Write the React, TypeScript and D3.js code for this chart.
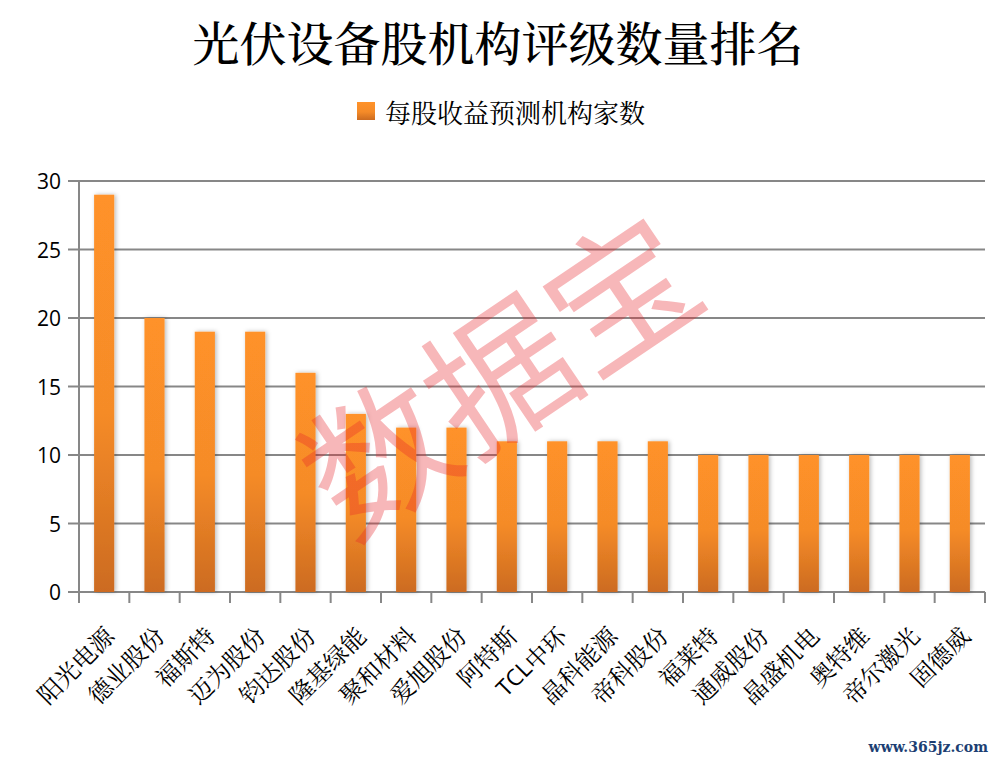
import * as d3 from "d3";

const categories = [
  "阳光电源", "德业股份", "福斯特", "迈为股份", "钧达股份", "隆基绿能",
  "聚和材料", "爱旭股份", "阿特斯", "TCL中环", "晶科能源", "帝科股份",
  "福莱特", "通威股份", "晶盛机电", "奥特维", "帝尔激光", "固德威",
];
const counts = [29, 20, 19, 19, 16, 13, 12, 12, 11, 11, 11, 11, 10, 10, 10, 10, 10, 10];
const yTicks = [0, 5, 10, 15, 20, 25, 30];
const seriesName = "每股收益预测机构家数";
const title = "光伏设备股机构评级数量排名";

const W = 996;
const H = 762;
const margin = { top: 181, right: 11, bottom: 170, left: 79 };
const CJK = "'Noto Serif CJK SC', 'Noto Sans CJK SC', sans-serif";
const LATIN = "'Open Sans', 'Noto Sans', sans-serif";

// latin runs (e.g. "TCL") are drawn in a sans face like the original
function labelParts(s: string) {
  return s.split(/([A-Za-z]+)/).filter((p) => p !== "");
}

export default function App() {
  const innerW = W - margin.left - margin.right;
  const innerH = H - margin.top - margin.bottom;

  const x = d3.scaleBand<string>().domain(categories).range([0, innerW]).paddingInner(0.6).paddingOuter(0.3);
  const band = d3.scaleBand<string>().domain(categories).range([0, innerW]);
  const y = d3.scaleLinear().domain([0, 30]).range([innerH, 0]);

  const gridColor = "#878787";

  return (
    <svg width={W} height={H} style={{ position: "absolute", left: 0, top: 0, background: "#fff" }}>
      <defs>
        <linearGradient id="barGrad" x1="0" y1="0" x2="0" y2="1">
          <stop offset="0%" stopColor="#ff9229" />
          <stop offset="55%" stopColor="#f58b28" />
          <stop offset="100%" stopColor="#cc6b20" />
        </linearGradient>
        <filter id="barShadow" x="-50%" y="-10%" width="200%" height="120%">
          <feDropShadow dx="1.5" dy="0" stdDeviation="2" floodColor="#000" floodOpacity="0.28" />
        </filter>
      </defs>

      {/* Title */}
      <text x={W / 2} y={40} textAnchor="middle" dominantBaseline="central"
        fontFamily={CJK} fontSize={47} fontWeight={500} fill="#000">{title}</text>

      {/* Legend */}
      <rect x={357} y={102} width={18} height={18} fill="url(#barGrad)" />
      <text x={385} y={111} dominantBaseline="central" fontFamily={CJK} fontSize={26} fill="#000">{seriesName}</text>

      <g transform={`translate(${margin.left},${margin.top})`}>
        {/* grid lines */}
        {yTicks.map((t) => (
          <g key={t}>
            <line x1={-11} x2={innerW} y1={y(t)} y2={y(t)} stroke={gridColor} strokeWidth={2} />
            <text x={-18} y={y(t)} textAnchor="end" dominantBaseline="central"
              fontFamily={LATIN} fontSize={21} fill="#000">{t}</text>
          </g>
        ))}
        {/* y axis */}
        <line x1={0} x2={0} y1={0} y2={innerH + 11} stroke={gridColor} strokeWidth={2} />
        {/* x ticks at band boundaries */}
        {categories.map((c) => (
          <line key={c} x1={band(c)! + band.bandwidth()} x2={band(c)! + band.bandwidth()}
            y1={innerH} y2={innerH + 11} stroke={gridColor} strokeWidth={2} />
        ))}

        {/* bars */}
        <g filter="url(#barShadow)">
          {categories.map((c, i) => (
            <rect key={c} x={x(c)} y={y(counts[i])} width={x.bandwidth()} height={innerH - y(counts[i])}
              fill="url(#barGrad)" />
          ))}
        </g>

        {/* x labels */}
        {categories.map((c) => {
          const cx = band(c)! + band.bandwidth() / 2 + 4;
          const cy = innerH + 38;
          return (
            <text key={c} transform={`translate(${cx},${cy}) rotate(-45)`} textAnchor="end"
              dominantBaseline="central" fontFamily={CJK} fontSize={24} fill="#000">
              {labelParts(c).map((p, j) =>
                /[A-Za-z]/.test(p) ? (
                  <tspan key={j} fontFamily={LATIN} fontSize={23}>{p}</tspan>
                ) : (
                  <tspan key={j}>{p}</tspan>
                ),
              )}
            </text>
          );
        })}
      </g>

      {/* watermark */}
      <text transform="translate(495,368) rotate(-34)" textAnchor="middle" dominantBaseline="central"
        fontFamily="'Noto Sans CJK SC', sans-serif" fontSize={146} fill="#e8242c" fillOpacity={0.33}>数据宝</text>

      {/* footer */}
      <text x={988} y={752} textAnchor="end" fontFamily="'DejaVu Serif', serif" fontWeight="bold"
        fontSize={14} fill="#1d3f73">www.365jz.com</text>
    </svg>
  );
}
